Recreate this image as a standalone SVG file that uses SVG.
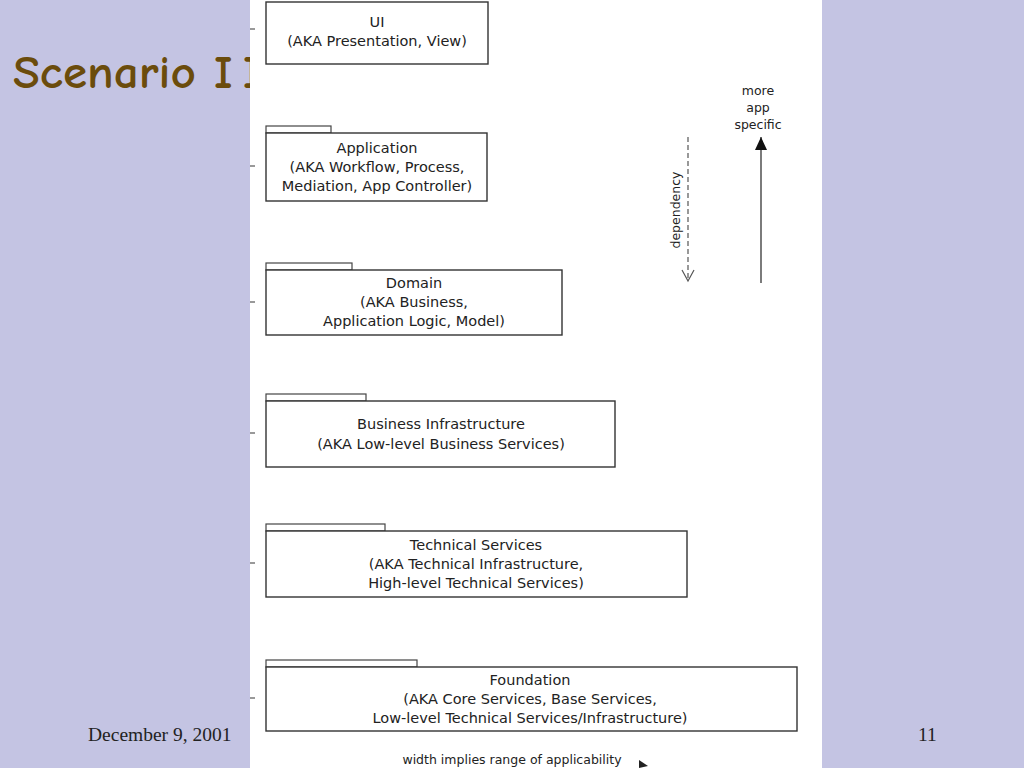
<svg xmlns="http://www.w3.org/2000/svg" width="1024" height="768" viewBox="0 0 1024 768">
<defs>
<style>
.box{fill:#fff;stroke:#333;stroke-width:1.4}
.tab{fill:#fff;stroke:#444;stroke-width:1.2}
.t{font-family:"DejaVu Sans","Liberation Sans",sans-serif;font-size:14.5px;fill:#222;text-anchor:middle}
.s{font-family:"DejaVu Sans","Liberation Sans",sans-serif;font-size:12.5px;fill:#222;text-anchor:middle}
.foot{font-family:"Liberation Serif","Times New Roman",serif;font-size:19.5px;fill:#222}
.tick{stroke:#555;stroke-width:1.2}
</style>
<clipPath id="titleclip"><rect x="0" y="0" width="250" height="768"/></clipPath>
<marker id="open" markerWidth="14" markerHeight="14" refX="12" refY="7" orient="auto" markerUnits="userSpaceOnUse">
<path d="M1,1 L12,7 L1,13" fill="none" stroke="#555" stroke-width="1.2"/>
</marker>
<marker id="filled" markerWidth="14" markerHeight="14" refX="13" refY="6" orient="auto" markerUnits="userSpaceOnUse">
<path d="M0,0 L13,6 L0,12 Z" fill="#111"/>
</marker>
</defs>
<rect x="0" y="0" width="1024" height="768" fill="#c4c4e3"/>
<text y="88" font-family="'Comic Neue','DejaVu Sans',sans-serif" font-size="46" font-weight="700" fill="#6b4c0c" clip-path="url(#titleclip)"><tspan x="13" textLength="183" lengthAdjust="spacingAndGlyphs">Scenario</tspan> <tspan x="214 243">II</tspan></text>
<rect x="250" y="0" width="572" height="768" fill="#ffffff"/>

<g id="ticks">
<line class="tick" x1="250" y1="29" x2="255" y2="29"/>
<line class="tick" x1="250" y1="166" x2="255" y2="166"/>
<line class="tick" x1="250" y1="302" x2="255" y2="302"/>
<line class="tick" x1="250" y1="433" x2="255" y2="433"/>
<line class="tick" x1="250" y1="563" x2="255" y2="563"/>
<line class="tick" x1="250" y1="698" x2="255" y2="698"/>
</g>

<g id="ui">
<rect class="box" x="266" y="2" width="222" height="62"/>
<text class="t" x="377" y="27">UI</text>
<text class="t" x="377" y="46">(AKA  Presentation, View)</text>
</g>

<g id="application">
<rect class="tab" x="266" y="126" width="65" height="7"/>
<rect class="box" x="266" y="133" width="221" height="68"/>
<text class="t" x="377" y="153">Application</text>
<text class="t" x="377" y="172">(AKA Workflow, Process,</text>
<text class="t" x="377" y="191">Mediation, App Controller)</text>
</g>

<g id="domain">
<rect class="tab" x="266" y="263" width="86" height="7"/>
<rect class="box" x="266" y="270" width="296" height="65"/>
<text class="t" x="414" y="288">Domain</text>
<text class="t" x="414" y="307">(AKA Business,</text>
<text class="t" x="414" y="326">Application Logic, Model)</text>
</g>

<g id="business-infrastructure">
<rect class="tab" x="266" y="394" width="100" height="7"/>
<rect class="box" x="266" y="401" width="349" height="66"/>
<text class="t" x="441" y="429">Business Infrastructure</text>
<text class="t" x="441" y="449">(AKA Low-level Business Services)</text>
</g>

<g id="technical-services">
<rect class="tab" x="266" y="524" width="119" height="7"/>
<rect class="box" x="266" y="531" width="421" height="66"/>
<text class="t" x="476" y="550">Technical Services</text>
<text class="t" x="476" y="569">(AKA Technical Infrastructure,</text>
<text class="t" x="476" y="588">High-level Technical Services)</text>
</g>

<g id="foundation">
<rect class="tab" x="266" y="660" width="151" height="7"/>
<rect class="box" x="266" y="667" width="531" height="64"/>
<text class="t" x="530" y="685">Foundation</text>
<text class="t" x="530" y="704">(AKA Core Services, Base Services,</text>
<text class="t" x="530" y="723">Low-level Technical Services/Infrastructure)</text>
</g>

<g id="connectors">
<line x1="688" y1="137" x2="688" y2="281" stroke="#555" stroke-width="1.2" stroke-dasharray="5,3" marker-end="url(#open)"/>
<line x1="761" y1="283" x2="761" y2="137" stroke="#444" stroke-width="1.4" marker-end="url(#filled)"/>
<path d="M639,760 L648,766 L639,768 Z" fill="#222"/>
</g>

<g id="labels">
<text class="s" transform="translate(680,210) rotate(-90)">dependency</text>
<text class="s" x="758" y="95">more</text>
<text class="s" x="758" y="112">app</text>
<text class="s" x="758" y="129">specific</text>
<text class="s" x="512" y="764">width implies  range of applicability</text>
</g>

<text class="foot" x="88" y="741">December 9, 2001</text>
<text class="foot" x="918" y="741">11</text>
</svg>
